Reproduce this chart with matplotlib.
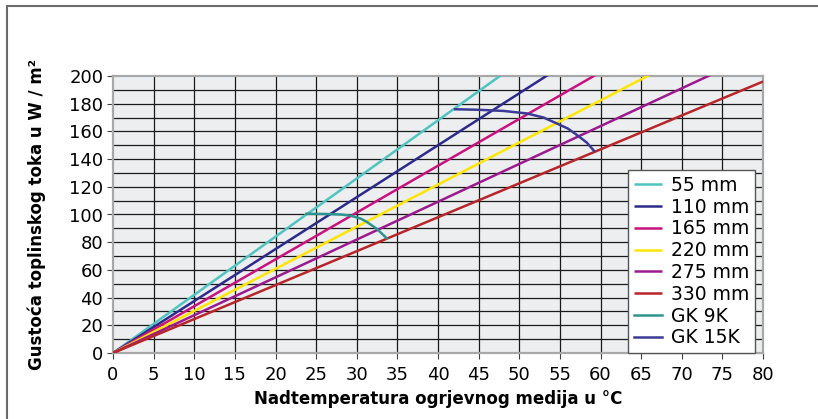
import numpy as np
import matplotlib
matplotlib.use("Agg")
import matplotlib.pyplot as plt
from matplotlib.patches import Rectangle

# straight lines: heat flux slope (W/m2 per K) per pipe spacing
labels = ["55 mm", "110 mm", "165 mm", "220 mm", "275 mm", "330 mm"]
slopes = [4.20, 3.75, 3.38, 3.04, 2.73, 2.45]
colors = ["#4FC4C1", "#2E2A8C", "#C8137F", "#FFE500", "#9C1A8E", "#B8252A"]

# limit curves
gk9_x = [23.8, 26.0, 28.0, 29.2, 30.5, 31.2, 32.5, 33.7]
gk9_y = [100.5, 100.4, 100.0, 99.2, 97.0, 94.8, 89.5, 82.8]
gk15_x = [42.1, 45.0, 48.0, 50.9, 53.0, 54.6, 56.0, 57.1, 58.3, 59.2]
gk15_y = [176.0, 175.6, 174.8, 173.0, 170.0, 165.8, 162.0, 157.4, 152.0, 146.0]
gk_labels = ["GK 9K", "GK 15K"]
gk_colors = ["#2E9490", "#3C3A94"]

x_max = 80

fig = plt.figure(figsize=(8.18, 4.19), dpi=100)
# outer frame, running off the right and bottom edges
fig.patches.append(Rectangle((7 / 818, -0.1), 1.0, 1.1 - 6 / 419,
                             transform=fig.transFigure, fill=False,
                             edgecolor="#6a6a6a", lw=1.5))

ax = fig.add_axes([113 / 818, 66 / 419, 650 / 818, 277 / 419])
ax.set_facecolor("#EDEEF0")

for x in range(5, 80, 5):
    ax.axvline(x, color="#1a1a1a", lw=0.9, zorder=1)
for y in range(10, 200, 10):
    ax.axhline(y, color="#1a1a1a", lw=0.9, zorder=1)

xs = np.array([0, x_max])
for lab, k, c in zip(labels, slopes, colors):
    ax.plot(xs, k * xs, color=c, lw=1.8, label=lab, zorder=3, solid_capstyle="butt")

ax.plot(gk9_x, gk9_y, color=gk_colors[0], lw=1.8, label=gk_labels[0], zorder=4)
ax.plot(gk15_x, gk15_y, color=gk_colors[1], lw=1.8, label=gk_labels[1], zorder=4)

ax.set_xlim(0, 80)
ax.set_ylim(0, 200)
ax.set_xticks(range(0, 81, 5))
ax.set_yticks(range(0, 201, 20))
ax.tick_params(labelsize=13, length=4, width=0.8, color="#404040")
ax.tick_params(axis="x", pad=5)
ax.tick_params(axis="y", pad=3)
for s in ax.spines.values():
    s.set_color("#A8A8A8")
    s.set_linewidth(1.6)

ax.set_xlabel("Nadtemperatura ogrjevnog medija u °C", fontsize=12,
              fontweight="bold", labelpad=5)
ax.set_ylabel("Gustoća toplinskog toka u W / m²", fontsize=12,
              fontweight="bold", labelpad=17)

leg = ax.legend(loc="lower right", bbox_to_anchor=(0.988, 0.0), fontsize=13.5,
                frameon=True, fancybox=False, edgecolor="#555555",
                framealpha=1.0, handlelength=1.5, handletextpad=0.5,
                labelspacing=0.15, borderpad=0.3, borderaxespad=0)
leg.get_frame().set_linewidth(1.0)
leg.set_zorder(5)

fig.savefig("out.png", dpi=100)
